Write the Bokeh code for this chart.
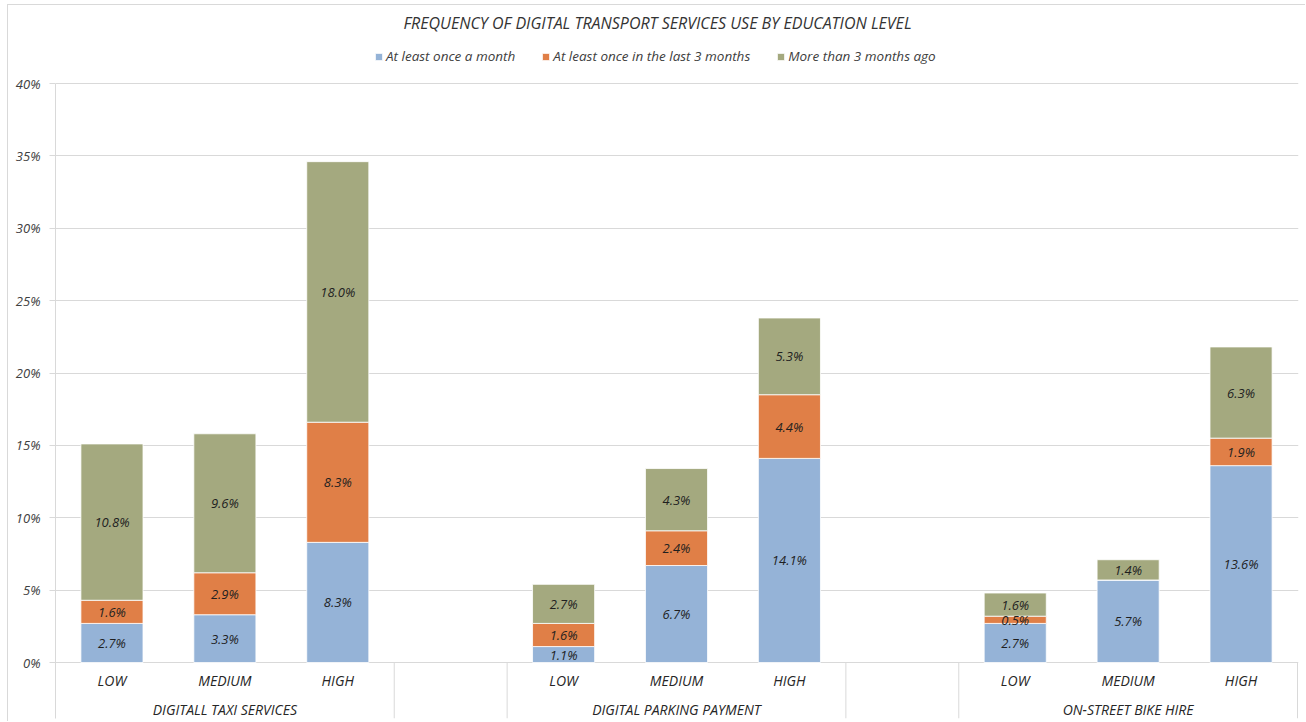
from bokeh.plotting import figure
from bokeh.models import ColumnDataSource, Range1d, Legend, LegendItem, Label, PrintfTickFormatter, FixedTicker
from bokeh.core.properties import value
from bokeh.embed import file_html
from bokeh.resources import INLINE

# ---------------- data ----------------
title = "FREQUENCY OF DIGITAL TRANSPORT SERVICES USE BY EDUCATION LEVEL"
services = ["DIGITALL TAXI SERVICES", "DIGITAL PARKING PAYMENT", "ON-STREET BIKE HIRE"]
levels = ["LOW", "MEDIUM", "HIGH"]
series = ["At least once a month", "At least once in the last 3 months", "More than 3 months ago"]
# values in %, order: taxi LOW/MED/HIGH, parking LOW/MED/HIGH, bike LOW/MED/HIGH
monthly = [2.7, 3.3, 8.3, 1.1, 6.7, 14.1, 2.7, 5.7, 13.6]
last3 = [1.6, 2.9, 8.3, 1.6, 2.4, 4.4, 0.5, 0.0, 1.9]
older = [10.8, 9.6, 18.0, 2.7, 4.3, 5.3, 1.6, 1.4, 6.3]
y_ticks = [0, 5, 10, 15, 20, 25, 30, 35, 40]
colors = ["#95B3D7", "#E07F47", "#A4A97F"]

# ---------------- layout geometry (page pixels) ----------------
PAGE_W, PAGE_H = 1306, 722
ox, oy = 8, 5                               # chart-area border offset
W, H = PAGE_W - ox, PAGE_H - oy
plot_left, plot_right = 55 - ox, 1297 - ox  # category area
plot_top, zero_px, frame_bottom = 83 - oy, 662 - oy, 718 - oy
slots_per_group = len(levels) + 1
n_slots = slots_per_group * len(services) - 1
slot_px = (plot_right - plot_left) / n_slots
frame_right = plot_right + 1
x_end = n_slots + 1 / slot_px

y_max = y_ticks[-1]
units_per_px = y_max / (zero_px - plot_top)
y_min = -(frame_bottom - zero_px) * units_per_px
y_top = y_max + plot_top * units_per_px    # frame reaches the top of the canvas

xs, lvl_names = [], []
for g, s in enumerate(services):
    for l, lv in enumerate(levels):
        xs.append(g * slots_per_group + l + 0.5)
        lvl_names.append(lv)

src = ColumnDataSource(dict(x=xs, s0=monthly, s1=last3, s2=older))

p = figure(width=W, height=H, x_range=Range1d(0, x_end), y_range=Range1d(y_min, y_top),
           output_backend="svg", toolbar_location=None,
           min_border_left=plot_left, min_border_right=W - frame_right,
           min_border_top=0, min_border_bottom=H - frame_bottom)
p.styles = {"margin-left": f"{ox - 1}px", "margin-top": f"{oy - 1}px",
            "border-left": "1px solid #d9d9d9", "border-top": "1px solid #d9d9d9"}
p.outline_line_color = None
p.background_fill_color = "white"
p.border_fill_color = "white"

p.xaxis.visible = False
p.xgrid.visible = False
p.ygrid.ticker = FixedTicker(ticks=y_ticks)
p.ygrid.grid_line_color = "#d9d9d9"
p.ygrid.grid_line_width = 1

yax = p.yaxis[0]
yax.bounds = (y_min, y_max)
yax.ticker = FixedTicker(ticks=y_ticks)
yax.formatter = PrintfTickFormatter(format="%d%%")
yax.major_label_text_font = "Open Sans"
yax.major_label_text_font_style = "italic"
yax.major_label_text_font_size = "13px"
yax.major_label_text_color = "#404040"
yax.axis_line_color = "#d9d9d9"
yax.major_tick_line_color = "#d9d9d9"
yax.major_tick_out = 6
yax.major_tick_in = 0
yax.minor_tick_line_color = None
yax.major_label_standoff = 9

renderers = p.vbar_stack(["s0", "s1", "s2"], x="x", width=0.55, source=src,
                         fill_color=colors, line_color="white", line_width=0.8)

# data labels
lx, ly, lt = [], [], []
for i, x in enumerate(xs):
    base = 0.0
    for vals in (monthly, last3, older):
        v = vals[i]
        if v > 0:
            lx.append(x)
            ly.append(base + v / 2)
            lt.append(f"{v:.1f}%")
        base += v
p.text(x=lx, y=ly, text=lt, text_align="center", text_baseline="middle",
       text_font=value("Open Sans"), text_font_style="italic", text_font_size="13px",
       text_color="#1f1f1f")

# category labels
p.text(x=xs, y=[0] * len(xs), text=lvl_names, y_offset=18, text_align="center", text_baseline="middle",
       text_font=value("Open Sans"), text_font_style="italic", text_font_size="14px",
       text_color="#262626")
gx = [g * slots_per_group + len(levels) / 2 for g in range(len(services))]
p.text(x=gx, y=[0] * len(gx), text=services, y_offset=47, text_align="center", text_baseline="middle",
       text_font=value("Open Sans"), text_font_style="italic", text_font_size="14px",
       text_color="#262626")

# separators below the axis
sep = []
for g in range(len(services)):
    sep.append(g * slots_per_group + len(levels))
    if g < len(services) - 1:
        sep.append(g * slots_per_group + len(levels) + 1)
p.segment(x0=sep, x1=sep, y0=[0] * len(sep), y1=[y_min] * len(sep), line_color="#d9d9d9", line_width=1)

# title (inside the tall frame, screen units relative to the frame)
p.add_layout(Label(x=657 - 55, y=frame_bottom - (22 - oy), x_units="screen", y_units="screen", text=title,
                   text_align="center", text_baseline="middle", text_font="Open Sans",
                   text_font_style="italic", text_font_size="16px", text_color="#333333"))

legend = Legend(items=[LegendItem(label=s, renderers=[r]) for s, r in zip(series, renderers)],
                orientation="horizontal", location=(374 - 55, frame_bottom - (65 - oy)),
                label_text_font="Open Sans", label_text_font_style="italic",
                label_text_font_size="13.5px", label_text_color="#404040",
                glyph_width=9, glyph_height=9, label_standoff=3, spacing=26,
                padding=0, margin=0, border_line_color=None, background_fill_alpha=0)
p.add_layout(legend)

open("out.html", "w").write(file_html(p, INLINE))
